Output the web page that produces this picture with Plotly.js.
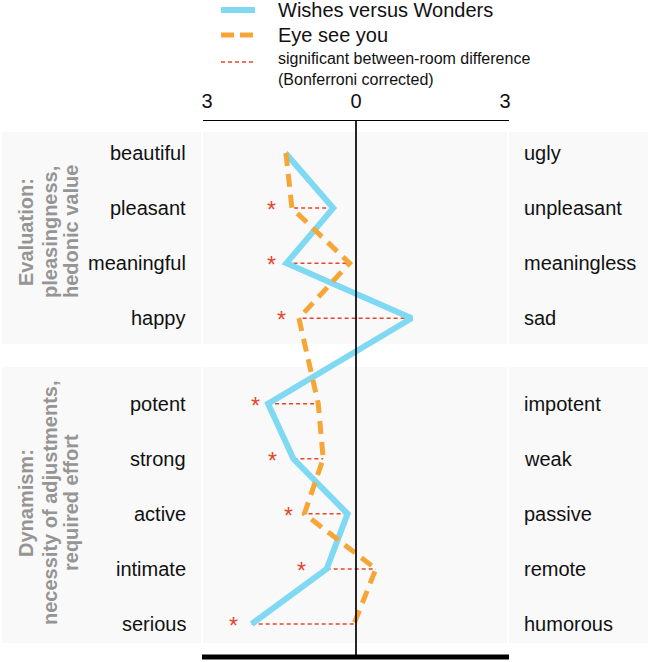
<!DOCTYPE html>
<html>
<head>
<meta charset="utf-8">
<script src="https://cdn.plot.ly/plotly-3.0.1.min.js"></script>
<style>html,body{margin:0;padding:0;background:#fff;}#chart{width:651px;height:662px;}</style>
</head>
<body>
<div id="chart"></div>
<script>
// ---- data ----
var leftLabels  = ["beautiful","pleasant","meaningful","happy","potent","strong","active","intimate","serious"];
var rightLabels = ["ugly","unpleasant","meaningless","sad","impotent","weak","passive","remote","humorous"];
var rowPos      = [0, 1, 2, 3, 4.55, 5.55, 6.55, 7.55, 8.55];
var wishes      = [-1.42, -0.46, -1.40, 1.12, -1.77, -1.26, -0.17, -0.59, -2.10];
var eyeSeeYou   = [-1.41, -1.29, -0.13, -1.15, -0.76, -0.66, -1.04, 0.40, -0.04];
var significant = [false, true, true, true, true, true, true, true, true];
var starPos     = [null, -1.71, -1.71, -1.49, -2.03, -1.69, -1.35, -1.09, -2.46];
var tickVals    = [-3, 0, 3];
var tickText    = ["3", "0", "3"];
var groupLabels = [
  {lines: ["Evaluation:", "pleasingness,", "hedonic value"], rows: [0, 3]},
  {lines: ["Dynamism:", "necessity of adjustments,", "required effort"], rows: [4, 8]}
];
var seriesNames = ["Wishes versus Wonders", "Eye see you"];
var sigLegend = "significant between-room difference<br>(Bonferroni corrected)";

// ---- geometry helpers (pixel -> paper) ----
var W = 651, H = 662;
var M = {l: 203, r: 142, t: 121, b: 2};
var PW = W - M.l - M.r, PH = H - M.t - M.b;
function px(xp){ return (xp - M.l) / PW; }
function py(yp){ return (H - M.b - yp) / PH; }

var FONT = "Liberation Sans, Arial, Helvetica, sans-serif";
var BLUE = "#7fd9f3", ORANGE = "#f6a637", RED = "#e6452a", GRAY = "#959595";

// ---- traces ----
var diffX = [], diffY = [];
for (var i = 0; i < rowPos.length; i++) {
  if (significant[i]) { diffX.push(wishes[i], eyeSeeYou[i], null); diffY.push(rowPos[i], rowPos[i], null); }
}
var traces = [
  {x: diffX, y: diffY, mode: "lines", line: {color: RED, width: 1.5, dash: "4px,3px"}, showlegend: false, hoverinfo: "skip"},
  {x: wishes, y: rowPos, mode: "lines", name: seriesNames[0], line: {color: BLUE, width: 6}, showlegend: false},
  {x: eyeSeeYou, y: rowPos, mode: "lines", name: seriesNames[1], line: {color: ORANGE, width: 5, dash: "13px,8px"}, showlegend: false}
];

// ---- annotations ----
var ann = [];
for (var i = 0; i < rowPos.length; i++) {
  ann.push({xref: "paper", yref: "y", x: px(188), y: rowPos[i], text: leftLabels[i], showarrow: false, xanchor: "right", yanchor: "middle", font: {family: FONT, size: 20, color: "#111"}});
  ann.push({xref: "paper", yref: "y", x: px(522), y: rowPos[i], text: rightLabels[i], showarrow: false, xanchor: "left", yanchor: "middle", font: {family: FONT, size: 20, color: "#111"}});
  if (significant[i]) {
    ann.push({xref: "x", yref: "y", x: starPos[i], y: rowPos[i], text: "*", showarrow: false, xanchor: "center", yanchor: "middle", yshift: -2, font: {family: FONT, size: 23, color: RED}});
  }
}
var colX = [26, 50, 71];
var groupCenters = [232, 503];
groupLabels.forEach(function(g, gi){
  g.lines.forEach(function(t, li){
    ann.push({xref: "paper", yref: "paper", x: px(colX[li]), y: py(groupCenters[gi]), text: t, textangle: -90, showarrow: false, xanchor: "center", yanchor: "middle", font: {family: FONT, size: 20, color: GRAY, weight: "bold"}});
  });
});
// legend texts
ann.push({xref: "paper", yref: "paper", x: px(276), y: py(10), text: seriesNames[0], showarrow: false, xanchor: "left", yanchor: "middle", font: {family: FONT, size: 20, color: "#111"}});
ann.push({xref: "paper", yref: "paper", x: px(276), y: py(35), text: seriesNames[1], showarrow: false, xanchor: "left", yanchor: "middle", font: {family: FONT, size: 20, color: "#111"}});
ann.push({xref: "paper", yref: "paper", x: px(276), y: py(69), text: sigLegend, align: "left", showarrow: false, xanchor: "left", yanchor: "middle", font: {family: FONT, size: 16, color: "#111"}});

// ---- shapes ----
var PANEL = "#f9f9f9";
var shapes = [];
[[132, 344], [367, 643]].forEach(function(b){
  [[2, 201], [203, 507], [509, 648]].forEach(function(c){
    shapes.push({type: "rect", xref: "paper", yref: "paper", x0: px(c[0]), x1: px(c[1]), y0: py(b[1]), y1: py(b[0]), fillcolor: PANEL, line: {width: 0}, layer: "below"});
  });
});
shapes.push({type: "line", xref: "x", yref: "paper", x0: 0, x1: 0, y0: py(657), y1: 1, line: {color: "#000", width: 1.7}});
shapes.push({type: "line", xref: "paper", yref: "paper", x0: px(202), x1: px(509), y0: py(657), y1: py(657), line: {color: "#000", width: 5}});
// legend samples
shapes.push({type: "line", xref: "paper", yref: "paper", x0: px(221), x1: px(255), y0: py(10), y1: py(10), line: {color: BLUE, width: 6}});
shapes.push({type: "line", xref: "paper", yref: "paper", x0: px(221), x1: px(255), y0: py(35), y1: py(35), line: {color: ORANGE, width: 5, dash: "13px,6px"}});
shapes.push({type: "line", xref: "paper", yref: "paper", x0: px(221), x1: px(255), y0: py(62), y1: py(62), line: {color: RED, width: 1.5, dash: "4px,3px"}});

var yTop = -(153 - M.t) / 55.09;
var yBot = 8.55 + (H - M.b - 624) / 55.09;

var layout = {
  width: W, height: H,
  margin: M,
  paper_bgcolor: "#fff",
  plot_bgcolor: "rgba(0,0,0,0)",
  showlegend: false,
  xaxis: {range: [-3.08, 3.08], side: "top", showline: true, linecolor: "#000", linewidth: 1.5, showgrid: false, zeroline: false,
          tickmode: "array", tickvals: tickVals, ticktext: tickText, ticks: "outside", ticklen: 4, tickcolor: "rgba(0,0,0,0)",
          tickfont: {family: FONT, size: 20, color: "#111"}, fixedrange: true},
  yaxis: {range: [yBot, yTop], showline: false, showgrid: false, zeroline: false, showticklabels: false, ticks: "", fixedrange: true},
  annotations: ann,
  shapes: shapes
};
Plotly.newPlot("chart", traces, layout, {displayModeBar: false, staticPlot: true});
</script>
</body>
</html>
